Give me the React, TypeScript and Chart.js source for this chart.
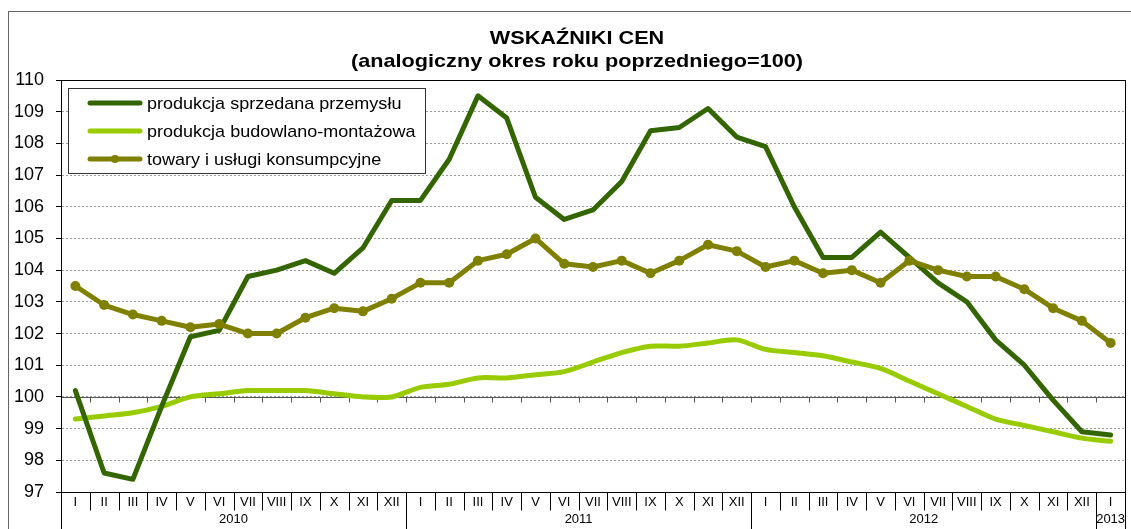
import React, { useEffect, useRef } from 'react';
import { Chart, registerables } from 'chart.js';
Chart.register(...registerables);

const categories = [
  'I', 'II', 'III', 'IV', 'V', 'VI', 'VII', 'VIII', 'IX', 'X', 'XI', 'XII',
  'I', 'II', 'III', 'IV', 'V', 'VI', 'VII', 'VIII', 'IX', 'X', 'XI', 'XII',
  'I', 'II', 'III', 'IV', 'V', 'VI', 'VII', 'VIII', 'IX', 'X', 'XI', 'XII',
  'I',
];
const yearLabels = ['2010', '2011', '2012', '2013'];
const yearSpans = [12, 12, 12, 1];

const seriesNames = [
  'produkcja sprzedana przemysłu',
  'produkcja budowlano-montażowa',
  'towary i usługi konsumpcyjne',
];

const industry = [
  100.2, 97.6, 97.4, 99.7, 101.9, 102.1, 103.8, 104.0, 104.3, 103.9, 104.7, 106.2,
  106.2, 107.5, 109.5, 108.8, 106.3, 105.6, 105.9, 106.8, 108.4, 108.5, 109.1, 108.2,
  107.9, 106.0, 104.4, 104.4, 105.2, 104.4, 103.6, 103.0, 101.8, 101.0, 99.9, 98.9,
  98.8,
];
const construction = [
  99.3, 99.4, 99.5, 99.7, 100.0, 100.1, 100.2, 100.2, 100.2, 100.1, 100.0, 100.0,
  100.3, 100.4, 100.6, 100.6, 100.7, 100.8, 101.1, 101.4, 101.6, 101.6, 101.7, 101.8,
  101.5, 101.4, 101.3, 101.1, 100.9, 100.5, 100.1, 99.7, 99.3, 99.1, 98.9, 98.7,
  98.6,
];
const consumer = [
  103.5, 102.9, 102.6, 102.4, 102.2, 102.3, 102.0, 102.0, 102.5, 102.8, 102.7, 103.1,
  103.6, 103.6, 104.3, 104.5, 105.0, 104.2, 104.1, 104.3, 103.9, 104.3, 104.8, 104.6,
  104.1, 104.3, 103.9, 104.0, 103.6, 104.3, 104.0, 103.8, 103.8, 103.4, 102.8, 102.4,
  101.7,
];

const titleLines = ['WSKAŹNIKI CEN', '(analogiczny okres roku poprzedniego=100)'];

const C_DARK = '#336600';
const C_LIGHT = '#99CC00';
const C_OLIVE = '#808000';
const FONT = '"Liberation Sans", Arial, sans-serif';

function stretchedText(ctx: CanvasRenderingContext2D, text: string, x: number, y: number, sx: number) {
  ctx.save();
  ctx.translate(x, y);
  ctx.scale(sx, 1);
  ctx.fillText(text, 0, 0);
  ctx.restore();
}

const decorPlugin = {
  id: 'decor',
  beforeDatasetsDraw(chart: any) {
    const { ctx, chartArea: a, scales } = chart;
    const x = scales.x;
    const y = scales.y;
    const step = x.getPixelForValue(1) - x.getPixelForValue(0);
    const y100 = Math.round(y.getPixelForValue(100)) + 0.5;
    ctx.save();
    ctx.strokeStyle = '#555555';
    ctx.lineWidth = 1;
    ctx.beginPath();
    ctx.moveTo(a.left, y100);
    ctx.lineTo(a.right, y100);
    for (let i = 0; i <= categories.length; i++) {
      const bx = Math.round(x.getPixelForValue(i) - step / 2) + 0.5;
      ctx.moveTo(bx, y100);
      ctx.lineTo(bx, y100 + 5);
    }
    ctx.stroke();
    ctx.restore();
  },
  afterDraw(chart: any) {
    const { ctx, chartArea: a, scales } = chart;
    const x = scales.x;
    const step = x.getPixelForValue(1) - x.getPixelForValue(0);
    const H = chart.height;
    ctx.save();
    // outer frame
    ctx.strokeStyle = '#666666';
    ctx.lineWidth = 1;
    ctx.strokeRect(8.5, 11.5, 2000, 2000);
    // plot frame
    ctx.strokeStyle = '#000000';
    ctx.strokeRect(Math.round(a.left) + 0.5, Math.round(a.top) + 0.5, Math.round(a.right - a.left), Math.round(a.bottom - a.top));
    // title
    ctx.fillStyle = '#000';
    ctx.font = 'bold 19px ' + FONT;
    ctx.textAlign = 'center';
    ctx.textBaseline = 'alphabetic';
    stretchedText(ctx, titleLines[0], 577, 44, 1.14);
    stretchedText(ctx, titleLines[1], 577, 67, 1.14);
    // category separators & labels
    const bottom = Math.round(a.bottom) + 0.5;
    const yearBounds = new Set<number>();
    let acc = 0;
    yearBounds.add(0);
    yearSpans.forEach((s) => { acc += s; yearBounds.add(acc); });
    ctx.strokeStyle = '#000';
    ctx.beginPath();
    for (let i = 0; i <= categories.length; i++) {
      const bx = Math.round(x.getPixelForValue(i) - step / 2) + 0.5;
      ctx.moveTo(bx, bottom);
      ctx.lineTo(bx, yearBounds.has(i) ? H : bottom + 18);
    }
    ctx.stroke();
    ctx.font = '13px ' + FONT;
    ctx.textBaseline = 'middle';
    categories.forEach((c, i) => {
      ctx.fillText(c, x.getPixelForValue(i), a.bottom + 10);
    });
    acc = 0;
    yearLabels.forEach((yl, k) => {
      const start = acc;
      const end = acc + yearSpans[k] - 1;
      acc += yearSpans[k];
      const cx = (x.getPixelForValue(start) + x.getPixelForValue(end)) / 2;
      ctx.fillText(yl, cx, a.bottom + 27);
    });
    // legend
    const lx = 68.5, ly = 88.5, lw = 357, lh = 85;
    ctx.fillStyle = '#fff';
    ctx.fillRect(lx, ly, lw, lh);
    ctx.strokeStyle = '#333';
    ctx.strokeRect(lx, ly, lw, lh);
    const colors = [C_DARK, C_LIGHT, C_OLIVE];
    const rows = [103, 131, 159];
    ctx.lineCap = 'round';
    seriesNames.forEach((name, k) => {
      ctx.strokeStyle = colors[k];
      ctx.lineWidth = 5;
      ctx.beginPath();
      ctx.moveTo(90, rows[k]);
      ctx.lineTo(140, rows[k]);
      ctx.stroke();
      if (k === 2) {
        ctx.fillStyle = colors[k];
        ctx.beginPath();
        ctx.arc(115, rows[k], 4, 0, Math.PI * 2);
        ctx.fill();
      }
      ctx.fillStyle = '#000';
      ctx.font = '17px ' + FONT;
      ctx.textAlign = 'left';
      ctx.textBaseline = 'middle';
      stretchedText(ctx, name, 147, rows[k] + 1, 1.06);
    });
    ctx.restore();
  },
};

export default function App() {
  const ref = useRef<HTMLCanvasElement>(null);
  useEffect(() => {
    document.body.style.margin = '0';
    const canvas = ref.current!;
    const chart = new Chart(canvas, {
      type: 'line',
      data: {
        labels: categories,
        datasets: [
          {
            label: seriesNames[0],
            data: industry,
            borderColor: C_DARK,
            backgroundColor: C_DARK,
            borderWidth: 5,
            pointRadius: 0,
            borderJoinStyle: 'round',
            borderCapStyle: 'round',
            order: 2,
          },
          {
            label: seriesNames[1],
            data: construction,
            borderColor: C_LIGHT,
            backgroundColor: C_LIGHT,
            borderWidth: 5,
            pointRadius: 0,
            tension: 0.3,
            borderJoinStyle: 'round',
            borderCapStyle: 'round',
            order: 3,
          },
          {
            label: seriesNames[2],
            data: consumer,
            borderColor: C_OLIVE,
            backgroundColor: C_OLIVE,
            borderWidth: 5,
            pointRadius: 5,
            pointBorderWidth: 0,
            pointBackgroundColor: C_OLIVE,
            borderJoinStyle: 'round',
            borderCapStyle: 'round',
            order: 1,
          },
        ],
      },
      options: {
        responsive: false,
        animation: false,
        layout: { padding: { left: 0, top: 80, right: 6, bottom: 37 } },
        plugins: { legend: { display: false }, tooltip: { enabled: false }, title: { display: false } },
        scales: {
          x: { type: 'category', offset: true, display: false },
          y: {
            min: 97,
            max: 110,
            afterFit: (s: any) => { s.width = 61; },
            ticks: { stepSize: 1, color: '#000', font: { size: 18, family: FONT }, padding: 12 },
            grid: { color: '#9a9a9a', tickColor: '#000', tickLength: 5 },
            border: { display: true, color: '#000', dash: [2, 2] },
          },
        },
      },
      plugins: [decorPlugin],
    });
    return () => chart.destroy();
  }, []);
  return <canvas ref={ref} width={1131} height={529} style={{ display: 'block' }} />;
}
